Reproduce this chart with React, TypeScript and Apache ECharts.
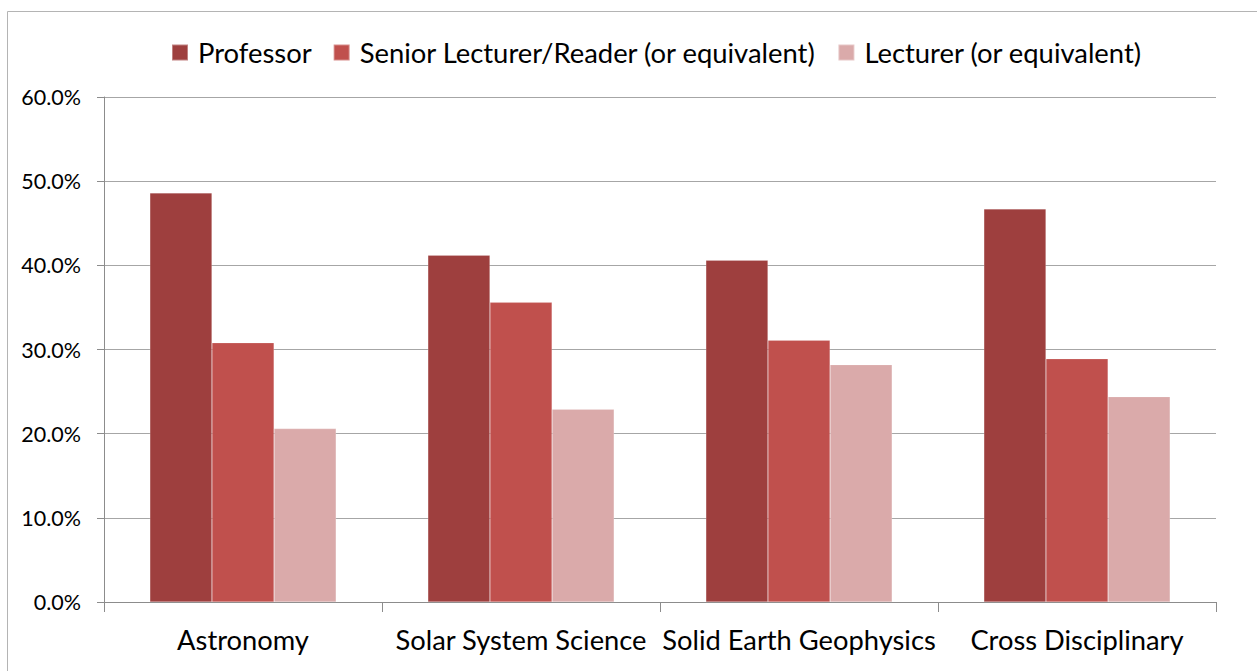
import React, { useEffect, useRef } from "react";
import * as echarts from "echarts";

const categories = ["Astronomy", "Solar System Science", "Solid Earth Geophysics", "Cross Disciplinary"];
const seriesNames = ["Professor", "Senior Lecturer/Reader (or equivalent)", "Lecturer (or equivalent)"];
const professor = [48.6, 41.2, 40.6, 46.7];
const seniorLecturer = [30.8, 35.6, 31.1, 28.9];
const lecturer = [20.6, 22.9, 28.2, 24.4];
const colors = ["#9E3F3E", "#C0504D", "#DAAAAA"];

const FONT = "Lato";

export default function App() {
  const ref = useRef<HTMLDivElement>(null);
  useEffect(() => {
    const chart = echarts.init(ref.current!, undefined, { renderer: "svg" });
    const values = [professor, seniorLecturer, lecturer];
    chart.setOption({
      animation: false,
      backgroundColor: "#ffffff",
      color: colors,
      textStyle: { fontFamily: FONT },
      graphic: [
        {
          type: "rect",
          shape: { x: 7.5, y: 11.5, width: 1300, height: 700 },
          style: { fill: "none", stroke: "#B4B4B4", lineWidth: 1 },
          silent: true,
        },
      ],
      legend: {
        top: 34,
        left: 166,
        itemWidth: 16,
        itemHeight: 16,
        itemGap: 21,
        icon: "rect",
        textStyle: { fontFamily: FONT, fontSize: 27.4, color: "#000000", padding: [0, 0, 0, 5] },
        data: seriesNames,
      },
      grid: { left: 104, top: 97, width: 1112, height: 505, containLabel: false },
      xAxis: {
        type: "category",
        data: categories,
        axisLine: { show: true, lineStyle: { color: "#8C8C8C", width: 1 } },
        axisTick: { show: true, length: 10, lineStyle: { color: "#8C8C8C" } },
        axisLabel: { fontFamily: FONT, fontSize: 27.3, color: "#000000", margin: 24, interval: 0 },
      },
      yAxis: {
        type: "value",
        min: 0,
        max: 60,
        interval: 10,
        axisLine: { show: true, lineStyle: { color: "#8C8C8C", width: 1 } },
        axisTick: { show: true, length: 7, lineStyle: { color: "#8C8C8C" } },
        splitLine: { show: true, lineStyle: { color: "#A6A6A6", width: 1 } },
        axisLabel: {
          fontFamily: FONT,
          fontSize: 21.5,
          color: "#000000",
          margin: 23,
          formatter: (v: number) => v.toFixed(1) + "%",
        },
      },
      series: seriesNames.map((name, i) => ({
        name,
        type: "bar",
        data: values[i],
        barGap: "0%",
        barCategoryGap: "33%",
        itemStyle: { color: colors[i], borderColor: "rgba(255,255,255,0.35)", borderWidth: 0.5 },
      })),
    });
    return () => chart.dispose();
  }, []);
  return (
    <div
      ref={ref}
      style={{ position: "absolute", left: 0, top: 0, width: 1257, height: 671 }}
    />
  );
}
